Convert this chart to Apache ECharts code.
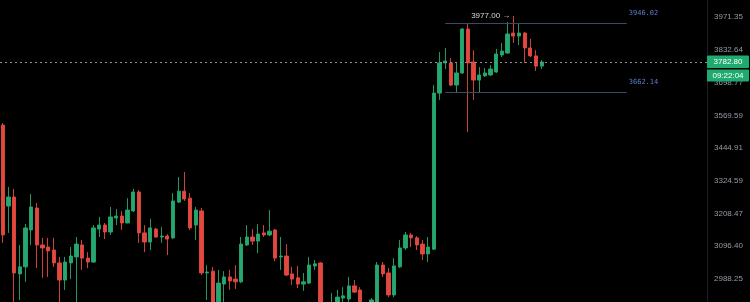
<!DOCTYPE html>
<html>
<head>
<meta charset="utf-8">
<script src="https://cdn.jsdelivr.net/npm/echarts@6/dist/echarts.min.js"></script>
<style>
  html, body { margin: 0; padding: 0; background: #000; }
  #chart { width: 750px; height: 302px; }
</style>
</head>
<body>
<div id="chart"></div>
<script>
// OHLC bars, oldest first
const opens = [
  3532, 3234, 3266, 3004, 3027, 3151, 3227, 3100, 3093, 3083,
  3040, 2984, 3040, 3060, 3100, 3056, 3043, 3154, 3168, 3144,
  3192, 3199, 3175, 3217, 3284, 3141, 3110, 3154, 3127, 3130,
  3124, 3248, 3287, 3262, 3168, 3217, 3007, 3013, 2914, 2971,
  2994, 2987, 2978, 3100, 3127, 3113, 3141, 3134, 3151, 3060,
  3063, 3004, 2991, 2971, 2974, 3030, 3040, 2863, 2882, 2904,
  2926, 2923, 2965, 2952, 2901, 2888, 2907, 3033, 3007, 2936,
  3027, 3090, 3134, 3124, 3103, 3070, 3086, 3657, 3779, 3779,
  3689, 3738, 3921, 3783, 3709, 3726, 3730, 3742, 3812, 3820,
  3904, 3891, 3904, 3841, 3808, 3766
];
const closes = [
  3134, 3266, 3007, 3027, 3158, 3231, 3100, 3090, 3080, 3040,
  2984, 3043, 3063, 3103, 3056, 3043, 3158, 3168, 3144, 3196,
  3199, 3175, 3220, 3284, 3141, 3110, 3158, 3127, 3130, 3120,
  3252, 3287, 3259, 3158, 3220, 3007, 3010, 2904, 2974, 2994,
  2981, 2978, 3103, 3127, 3113, 3137, 3134, 3147, 3056, 3063,
  3000, 2987, 2971, 2978, 3033, 3037, 2863, 2839, 2910, 2929,
  2933, 2965, 2945, 2901, 2882, 2920, 3033, 3004, 2936, 3030,
  3090, 3134, 3124, 3100, 3070, 3093, 3657, 3779, 3787, 3689,
  3738, 3921, 3779, 3709, 3730, 3738, 3754, 3816, 3828, 3900,
  3891, 3904, 3841, 3808, 3766, 3782.80
];
const lows = [
  3107, 3141, 2904, 2920, 2978, 3100, 3023, 2991, 2994, 3027,
  2904, 2952, 2987, 2904, 3017, 3023, 3040, 3127, 3120, 3134,
  3168, 3151, 3174, 3213, 3107, 3076, 3083, 3124, 3107, 3066,
  3120, 3245, 3252, 3151, 3117, 3000, 2920, 2888, 2904, 2904,
  2952, 2955, 2974, 3097, 3100, 3073, 3127, 3130, 3046, 3017,
  2997, 2968, 2958, 2949, 2971, 3017, 2842, 2815, 2873, 2888,
  2910, 2910, 2942, 2888, 2863, 2876, 2901, 2994, 2929, 2929,
  3023, 3083, 3093, 3083, 3050, 3043, 3083, 3630, 3754, 3685,
  3661, 3734, 3505, 3630, 3657, 3722, 3726, 3738, 3803, 3816,
  3862, 3853, 3779, 3803, 3746, 3754
];
const highs = [
  3540, 3302, 3295, 3100, 3172, 3277, 3245, 3124, 3124, 3124,
  3060, 3060, 3093, 3127, 3117, 3076, 3168, 3196, 3175, 3231,
  3224, 3217, 3262, 3295, 3291, 3168, 3189, 3158, 3161, 3137,
  3280, 3338, 3356, 3280, 3231, 3227, 3033, 3027, 3017, 3013,
  3017, 3033, 3127, 3168, 3154, 3172, 3168, 3220, 3154, 3127,
  3103, 3027, 3030, 3007, 3060, 3050, 3043, 2901, 2942, 2952,
  2961, 2994, 2984, 2961, 2910, 2926, 3043, 3043, 3023, 3056,
  3117, 3144, 3141, 3130, 3117, 3127, 3689, 3824, 3841, 3799,
  3783, 3925, 3947, 3832, 3762, 3758, 3770, 3837, 3862, 3951,
  3977, 3947, 3908, 3879, 3832, 3791
];

// price scale labels (log spaced)
const priceTicks = ['3971.35', '3832.64', '3698.77', '3569.59', '3444.91',
                    '3324.59', '3208.47', '3096.40', '2988.25'];

// drawn levels
const upperLevel = 3946.02;
const lowerLevel = 3662.14;
const levelFromBar = 78;
const levelToBar = 110;
const sessionHigh = 3977.00;
const sessionHighBar = 90;
const barCountdown = '09:22:04';
const emptyBarsRight = 29;

const UP = '#25a86f';
const DOWN = '#e3483f';
const FONT = "'Liberation Sans', Arial, sans-serif";

const totalSlots = opens.length + emptyBarsRight;
const categories = Array.from({ length: totalSlots }, (_, i) => String(i));
const ohlc = opens.map((o, i) => [o, closes[i], lows[i], highs[i]]);
const lastClose = closes[closes.length - 1];

function levelLine(price) {
  return [
    {
      coord: [levelFromBar, price],
      label: {
        show: true,
        position: 'end',
        distance: 2,
        offset: [0, -10],
        color: '#5b7ec8',
        fontSize: 7,
        fontFamily: "'DejaVu Sans Mono', monospace",
        formatter: price.toFixed(2)
      }
    },
    { coord: [levelToBar, price] }
  ];
}

const chart = echarts.init(document.getElementById('chart'), null, { renderer: 'canvas' });

chart.setOption({
  backgroundColor: '#000000',
  animation: false,
  grid: { left: -1, right: 41, top: 0, bottom: 0, containLabel: false },
  xAxis: {
    type: 'category',
    data: categories,
    boundaryGap: true,
    show: false
  },
  yAxis: {
    type: 'log',
    logBase: 1.0362062,
    position: 'right',
    min: 2913.5,
    max: 4046.8,
    splitNumber: 10,
    offset: -2,
    axisLine: { show: true, lineStyle: { color: '#1c1e24', width: 1 } },
    axisTick: { show: false },
    splitLine: { show: false },
    axisLabel: {
      color: '#9599a2',
      fontSize: 8,
      fontFamily: FONT,
      margin: 7,
      showMinLabel: false,
      showMaxLabel: false,
      formatter: function (v) {
        for (const t of priceTicks) {
          if (Math.abs(parseFloat(t) - v) / v < 0.002) return t;
        }
        return '';
      }
    }
  },
  series: [{
    type: 'candlestick',
    data: ohlc,
    barWidth: 3.8,
    clip: true,
    itemStyle: {
      color: UP, color0: DOWN,
      borderColor: UP, borderColor0: DOWN,
      borderWidth: 0.9
    },
    markLine: {
      silent: true,
      symbol: 'none',
      animation: false,
      lineStyle: { color: '#3c4964', type: 'solid', width: 1 },
      label: { show: false },
      data: [
        {
          yAxis: lastClose,
          lineStyle: { color: '#8c8f97', type: [2, 3], width: 1 },
          label: { show: false }
        },
        levelLine(upperLevel),
        levelLine(lowerLevel)
      ]
    },
    markPoint: {
      silent: true,
      symbol: 'circle',
      symbolSize: 0,
      data: [{
        coord: [sessionHighBar, sessionHigh],
        label: {
          show: true,
          position: 'left',
          distance: 3,
          color: '#d6d8de',
          fontSize: 8,
          fontFamily: FONT,
          formatter: sessionHigh.toFixed(2) + ' \u2192'
        }
      }]
    }
  }]
});

// last price tag and bar countdown on the price scale
const yLast = chart.convertToPixel({ yAxisIndex: 0 }, lastClose);
const axisX = 707;
const tagW = 750 - axisX - 1;
chart.setOption({
  graphic: [
    {
      type: 'rect', z: 100,
      shape: { x: axisX, y: yLast - 6.5, width: tagW, height: 12.5, r: 1 },
      style: { fill: '#1fab6f' }
    },
    {
      type: 'text', z: 101,
      style: {
        x: axisX + tagW / 2, y: yLast,
        text: lastClose.toFixed(2),
        fill: '#ffffff', font: "8px " + FONT,
        align: 'center', verticalAlign: 'middle'
      }
    },
    {
      type: 'rect', z: 100,
      shape: { x: axisX, y: yLast + 7.5, width: tagW, height: 12, r: 1 },
      style: { fill: '#1fab6f' }
    },
    {
      type: 'text', z: 101,
      style: {
        x: axisX + tagW / 2, y: yLast + 13.5,
        text: barCountdown,
        fill: '#ffffff', font: "8px " + FONT,
        align: 'center', verticalAlign: 'middle'
      }
    }
  ]
});
</script>
</body>
</html>
